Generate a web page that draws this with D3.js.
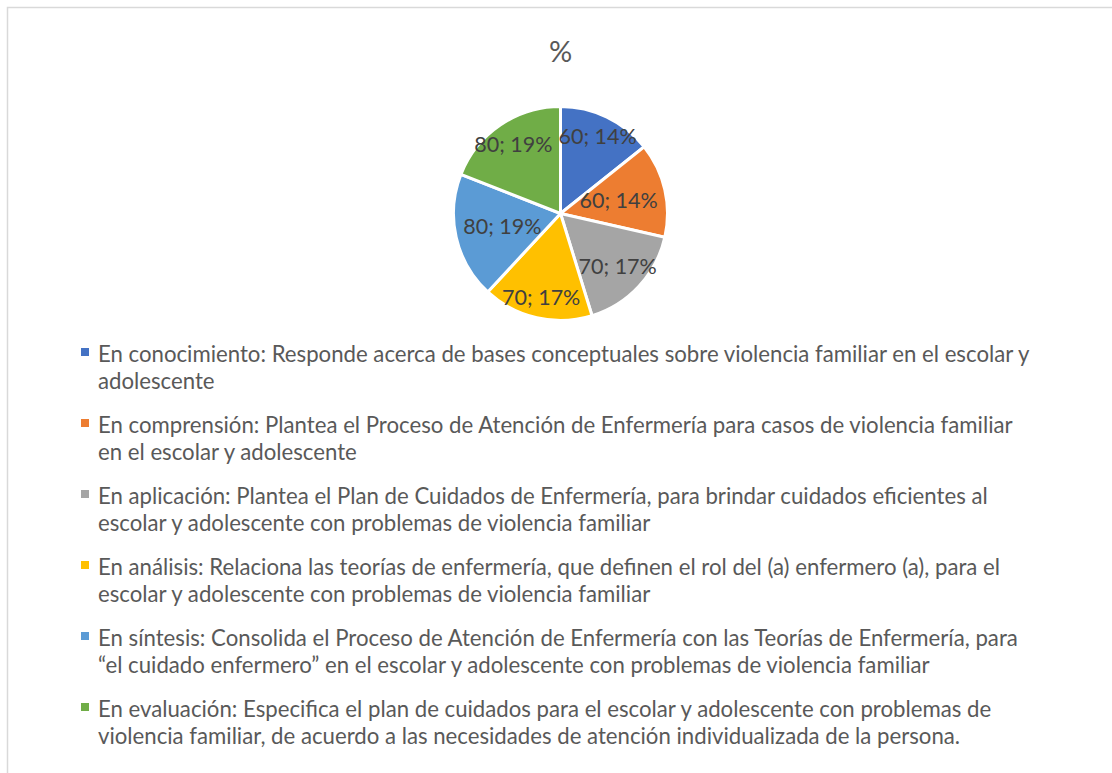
<!DOCTYPE html>
<html>
<head>
<meta charset="utf-8">
<script src="https://cdn.jsdelivr.net/npm/d3@7"></script>
<style>
  html, body { margin: 0; padding: 0; background: #fff; }
  svg { display: block; font-family: Lato, "Open Sans", sans-serif; }
</style>
</head>
<body>
<div id="chart"></div>
<script>
// data
const title = '%';
const categories = [
  'En conocimiento: Responde acerca de bases conceptuales sobre violencia familiar en el escolar y adolescente',
  'En comprensión: Plantea el Proceso de Atención de Enfermería para casos de violencia familiar en el escolar y adolescente',
  'En aplicación: Plantea el Plan de Cuidados de Enfermería, para brindar cuidados eficientes al escolar y adolescente con problemas de violencia familiar',
  'En análisis: Relaciona las teorías de enfermería, que definen el rol del (a) enfermero (a), para el escolar y adolescente con problemas de violencia familiar',
  'En síntesis: Consolida el Proceso de Atención de Enfermería con las Teorías de Enfermería, para “el cuidado enfermero” en el escolar y adolescente con problemas de violencia familiar',
  'En evaluación: Especifica el plan de cuidados para el escolar y adolescente con problemas de violencia familiar, de acuerdo a las necesidades de atención individualizada de la persona.'
];
const values = [60, 60, 70, 70, 80, 80];
const colors = ['#4472C4', '#ED7D31', '#A5A5A5', '#FFC000', '#5B9BD5', '#70AD47'];

const width = 1112, height = 773;
const cx = 560.5, cy = 213.5, radius = 107;

const svg = d3.select('#chart').append('svg')
  .attr('width', width)
  .attr('height', height);

// chart area frame (runs off the right and bottom edges)
svg.append('rect')
  .attr('x', 7.5).attr('y', 7.5)
  .attr('width', width + 20).attr('height', height + 20)
  .attr('fill', '#fff')
  .attr('stroke', '#d9d9d9')
  .attr('stroke-width', 1.5);

svg.append('text')
  .attr('x', cx).attr('y', 62)
  .attr('text-anchor', 'middle')
  .attr('font-size', 29)
  .attr('fill', '#595959')
  .text(title);

const total = d3.sum(values);
const pie = d3.pie().sort(null).value(d => d);
const arcs = pie(values);
const arc = d3.arc().innerRadius(0).outerRadius(radius);

const g = svg.append('g').attr('transform', `translate(${cx},${cy})`);

g.selectAll('path')
  .data(arcs)
  .join('path')
  .attr('d', arc)
  .attr('fill', (d, i) => colors[i])
  .attr('stroke', '#fff')
  .attr('stroke-width', 3);

// best-fit style: labels sit further in where the slice is wide sideways
function labelPos(d) {
  const a = (d.startAngle + d.endAngle) / 2;
  const s = Math.abs(Math.sin(a));
  const r = radius * (0.81 - 0.28 * Math.pow(s, 4));
  return [r * Math.sin(a), -r * Math.cos(a)];
}

g.selectAll('text.lbl')
  .data(arcs)
  .join('text')
  .attr('class', 'lbl')
  .attr('x', d => labelPos(d)[0])
  .attr('y', d => labelPos(d)[1] + 7.5)
  .attr('text-anchor', 'middle')
  .attr('font-size', 21.5)
  .attr('fill', '#404040')
  .text(d => `${d.data}; ${Math.round(d.data / total * 100)}%`);

// legend
const legendX = 81, textX = 98, lineGap = 27, maxWidth = 942;
const legendY = d3.scaleLinear().domain([0, categories.length - 1]).range([352, 707]);

const legend = svg.append('g');
const items = legend.selectAll('g')
  .data(categories)
  .join('g')
  .attr('transform', (d, i) => `translate(0,${legendY(i)})`);

items.append('rect')
  .attr('x', legendX).attr('y', -4)
  .attr('width', 8).attr('height', 8)
  .attr('fill', (d, i) => colors[i]);

items.each(function (d) {
  const t = d3.select(this).append('text')
    .attr('font-size', 22.2)
    .attr('fill', '#595959');
  const words = d.split(' ');
  let line = [];
  let lineNo = 0;
  let tspan = t.append('tspan').attr('x', textX).attr('y', 10);
  words.forEach(w => {
    line.push(w);
    tspan.text(line.join(' '));
    if (tspan.node().getComputedTextLength() > maxWidth && line.length > 1) {
      line.pop();
      tspan.text(line.join(' '));
      line = [w];
      lineNo++;
      tspan = t.append('tspan').attr('x', textX).attr('y', 10 + lineNo * lineGap).text(w);
    }
  });
});
</script>
</body>
</html>
